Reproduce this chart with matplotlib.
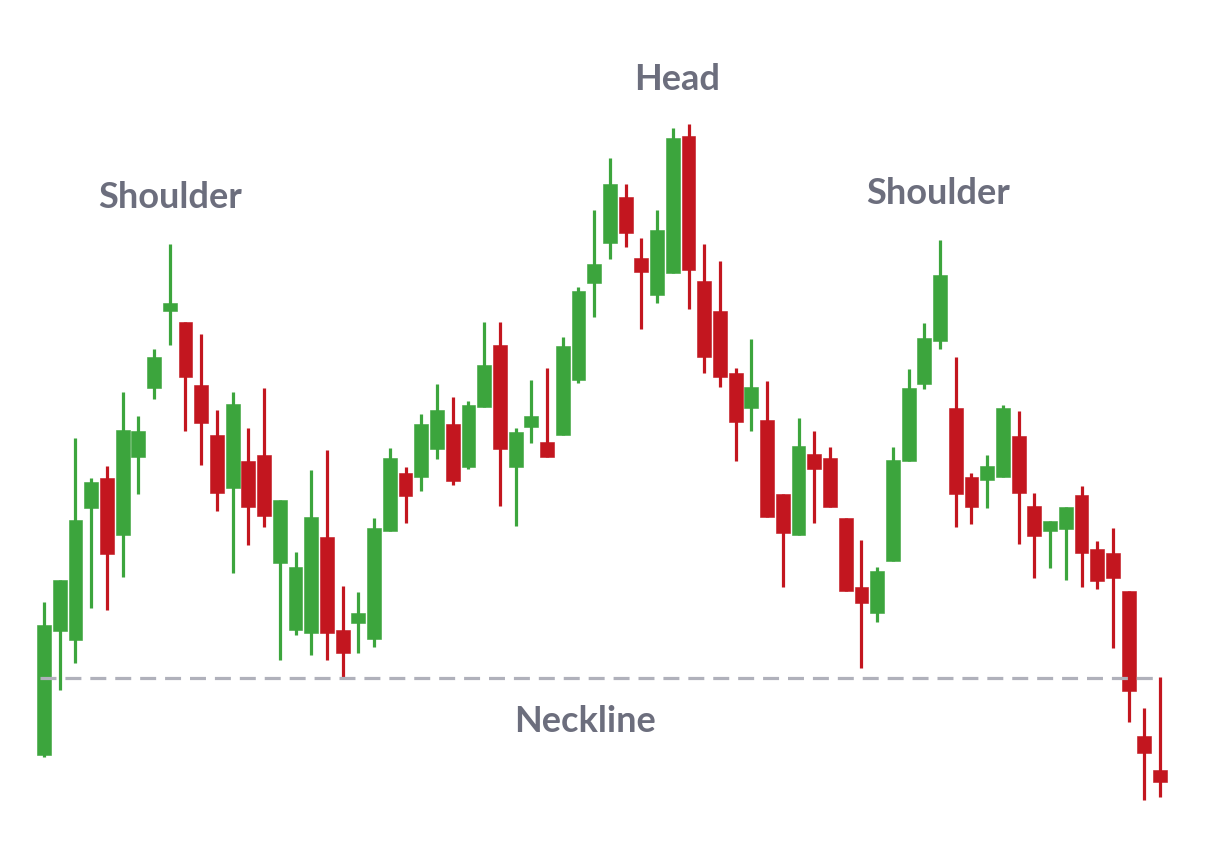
import matplotlib
matplotlib.use("Agg")
import matplotlib.pyplot as plt
import numpy as np

# OHLC prices (arbitrary price units)
opens = [95, 219, 210, 342, 372, 315, 393, 462, 539, 528, 465, 415, 362, 389, 395, 287, 220, 217, 313, 220,
         227, 211, 319, 377, 373, 401, 426, 383, 443, 505, 383, 423, 408, 415, 470, 567, 607, 653, 592, 555,
         577, 714, 569, 539, 477, 442, 430, 356, 315, 396, 392, 332, 263, 237, 289, 389, 466, 509, 442, 373,
         370, 373, 414, 344, 319, 321, 355, 301, 297, 259, 114, 80]
highs = [248, 270, 412, 372, 384, 458, 434, 501, 606, 528, 516, 440, 458, 422, 462, 350, 298, 380, 400, 264,
         258, 332, 402, 383, 436, 466, 453, 449, 528, 528, 422, 470, 482, 513, 563, 640, 692, 666, 612, 640,
         722, 726, 606, 589, 482, 511, 469, 356, 432, 419, 403, 332, 310, 283, 403, 481, 527, 610, 493, 377,
         395, 445, 439, 357, 329, 343, 364, 309, 322, 259, 142, 173]
lows = [93, 160, 187, 242, 240, 273, 356, 451, 505, 419, 385, 339, 277, 305, 323, 190, 215, 195, 190, 172,
        197, 203, 319, 327, 359, 391, 365, 381, 443, 344, 324, 407, 393, 415, 467, 533, 591, 603, 521, 547,
        577, 541, 477, 463, 389, 419, 333, 263, 315, 327, 343, 259, 182, 228, 289, 389, 461, 501, 323, 326,
        342, 373, 306, 272, 282, 270, 263, 261, 202, 128, 50, 53]
closes = [225, 270, 330, 368, 296, 420, 419, 493, 547, 473, 427, 357, 446, 343, 334, 350, 283, 333, 217, 197,
          237, 322, 392, 354, 426, 440, 369, 445, 485, 401, 418, 434, 393, 504, 559, 586, 666, 617, 578, 620,
          712, 580, 493, 473, 428, 463, 333, 317, 404, 381, 343, 259, 247, 279, 390, 462, 512, 575, 356, 343,
          384, 442, 357, 314, 329, 343, 297, 269, 272, 159, 97, 68]

neckline_price = 172
labels = ["Shoulder", "Head", "Shoulder", "Neckline"]
label_pos = [(8.0, 653), (40.3, 770), (56.9, 657), (34.4, 128)]

GREEN = "#3ca53d"
RED = "#c3161f"
TEXT = "#6c6e7d"
NECK = "#b0b1bb"

fig = plt.figure(figsize=(12.13, 8.48), dpi=100)
ax = fig.add_axes([0, 0, 1, 1])
ax.set_axis_off()

step = 15.72  # pixels per candle
x = np.arange(len(opens))
ax.set_xlim(-44 / step, (1213 - 44) / step)
ax.set_ylim(2, 850)

o = np.array(opens); h = np.array(highs); l = np.array(lows); c = np.array(closes)
up = c >= o
colors = np.where(up, GREEN, RED)

ax.vlines(x, l, h, colors=colors, linewidth=2.3, zorder=2)
ax.bar(x, np.abs(c - o), bottom=np.minimum(o, c), width=0.88, color=colors,
       edgecolor=colors, linewidth=0.4, zorder=3)

ax.plot([-0.25, 71], [neckline_price, neckline_price], color=NECK, linewidth=2.3,
        linestyle=(0, (5, 2.8)), zorder=4)

for txt, (tx, ty) in zip(labels, label_pos):
    ax.text(tx, ty, txt, ha="center", va="center", fontsize=26, fontweight="bold",
            family=["Lato", "DejaVu Sans"], color=TEXT, zorder=5)

fig.savefig("out.png", dpi=100, facecolor="white")
